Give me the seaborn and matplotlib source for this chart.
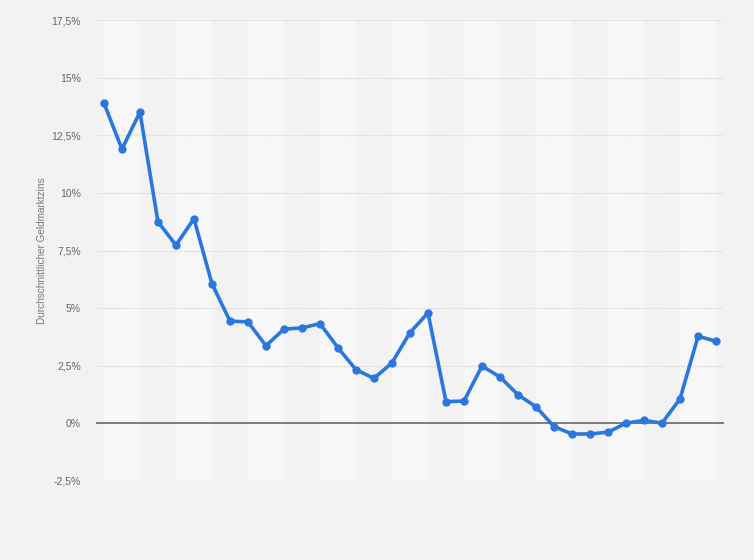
"""Durchschnittlicher Geldmarktzins – line chart in the Statista look."""

import matplotlib.pyplot as plt
import numpy as np
import pandas as pd
import seaborn as sns

# values (35 yearly points, x labels not shown)
years = list(range(1990, 2025))
rates = [13.9, 11.9, 13.5, 8.75, 7.73, 8.88, 6.06, 4.44, 4.40, 3.37,
         4.09, 4.14, 4.33, 3.28, 2.33, 1.95, 2.63, 3.94, 4.79, 0.94,
         0.97, 2.49, 2.01, 1.24, 0.72, -0.14, -0.46, -0.46, -0.38, 0.01,
         0.13, 0.01, 1.07, 3.78, 3.56]
y_ticks = [-2.5, 0, 2.5, 5, 7.5, 10, 12.5, 15, 17.5]
y_label = "Durchschnittlicher Geldmarktzins"

BG = "#f2f2f2"
STRIPE = "#f7f7f7"
BLUE = "#2a78de"

df = pd.DataFrame({"idx": np.arange(len(years)), "year": years, "rate": rates})

sns.set_theme(style="white")
plt.rcParams["font.family"] = ["Liberation Sans", "DejaVu Sans"]

fig = plt.figure(figsize=(7.54, 5.6), dpi=100, facecolor=BG)
ax = fig.add_axes([96 / 754, 1 - 481 / 560, 628 / 754, 461 / 560])
ax.set_facecolor(BG)

# alternating column bands, two years wide
for i in range(0, len(years) - 1, 4):
    ax.axvspan(i, i + 2, color=STRIPE, zorder=0, lw=0)

for t in y_ticks:
    if t == 0:
        continue
    ax.axhline(t, color="#d6d6d6", lw=0.9, ls=(0, (1, 1)), zorder=1)
ax.axhline(0, color="#666666", lw=1.2, zorder=2)

sns.lineplot(data=df, x="idx", y="rate", ax=ax, color=BLUE, lw=2.6,
             marker="o", markersize=6, markeredgewidth=0, zorder=3)

ax.set_xlim(-0.44, len(years) - 1 + 0.44)
ax.set_ylim(-2.5, 17.5)
ax.set_xticks([])
ax.set_yticks(y_ticks)
ax.set_yticklabels([f"{t:g}%".replace(".", ",") for t in y_ticks],
                   color="#666666", fontsize=7.5)
ax.tick_params(axis="y", length=0, pad=11)
ax.set_xlabel("")
ax.set_ylabel(y_label, color="#777777", fontsize=7.2)
ax.yaxis.set_label_coords(-0.078, 0.5)
for s in ax.spines.values():
    s.set_visible(False)

fig.savefig("out.png", dpi=100, facecolor=BG)
